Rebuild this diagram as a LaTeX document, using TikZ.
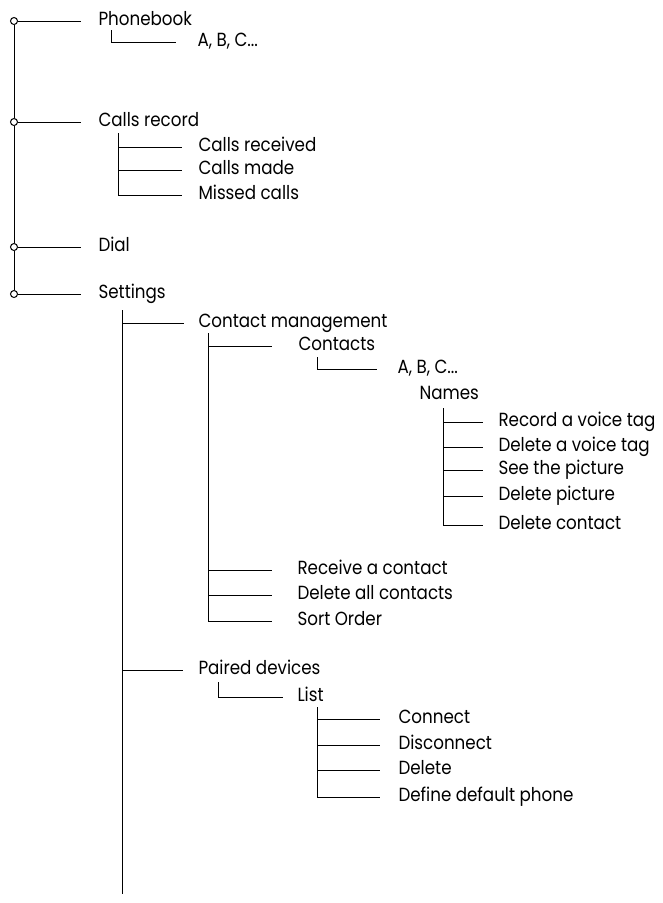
\documentclass[tikz,border=0pt]{standalone}
\usepackage{fontspec}
\setmainfont[FakeStretch=0.88]{Poppins}
\begin{document}
\begin{tikzpicture}[x=1pt,y=-1pt,line width=1pt,
    lbl/.style={anchor=west,inner sep=0pt,text height=13pt,text depth=5pt,font=\fontsize{19}{21}\selectfont},
    dot/.style={circle,draw,fill=white,minimum size=7pt,inner sep=0pt}]
    \useasboundingbox (0,0) rectangle (662,903);
    % top level
    \node[dot](o1) at (14,21){};
    \node[dot](o2) at (14,122){};
    \node[dot](o3) at (14,247){};
    \node[dot](o4) at (14,294){};
    \node[lbl](pb) at (98,21){Phonebook};
    \node[lbl](cr) at (98,122){Calls record};
    \node[lbl](dial) at (98,247){Dial};
    \node[lbl](set) at (98,294){Settings};
    \draw (o1)--(o2) (o2)--(o3) (o3)--(o4);
    \draw (o1)--([xshift=-17pt]pb.west) (o2)--([xshift=-17pt]cr.west) (o3)--([xshift=-17pt]dial.west) (o4)--([xshift=-17pt]set.west);
    % phonebook
    \node[lbl](pbA) at (197,42){A, B, C...};
    \coordinate (pbs) at (111,30);
    \draw (pbs)|-([xshift=-21pt]pbA.west);
    % calls record
    \node[lbl](cr1) at (198,147){Calls received};
    \node[lbl](cr2) at (198,170){Calls made};
    \node[lbl](cr3) at (198,195){Missed calls};
    \coordinate (crs) at (118,133);
    \foreach \n in {cr1,cr2,cr3} \draw (crs)|-([xshift=-16pt]\n.west);
    % settings
    \coordinate (sets) at (122,310);
    \coordinate (sete) at (122,894);
    \draw (sets)--(sete);
    \node[lbl](cm) at (198,323){Contact management};
    \node[lbl](pd) at (198,670){Paired devices};
    \draw (sets)|-([xshift=-14pt]cm.west) (sets)|-([xshift=-15pt]pd.west);
    % contact management
    \coordinate (cms) at (208.5,333);
    \node[lbl](ct) at (298,346){Contacts};
    \node[lbl](rc) at (297,570){Receive a contact};
    \node[lbl](dc) at (297,595){Delete all contacts};
    \node[lbl](so) at (297,621){Sort Order};
    \draw (cms)|-([xshift=-26pt]ct.west);
    \foreach \n in {rc,dc,so} \draw (cms)|-([xshift=-25pt]\n.west);
    % contacts
    \node[lbl](ctA) at (397,369){A, B, C...};
    \node[lbl](nm) at (419,395){Names};
    \coordinate (cts) at (317,357);
    \draw (cts)|-([xshift=-20pt]ctA.west);
    \coordinate (nms) at (443,408);
    \node[lbl](nm1) at (498,422){Record a voice tag};
    \node[lbl](nm2) at (498,447){Delete a voice tag};
    \node[lbl](nm3) at (498,470){See the picture};
    \node[lbl](nm4) at (498,496){Delete picture};
    \node[lbl](nm5) at (498,525){Delete contact};
    \foreach \n in {nm1,nm2,nm3,nm4,nm5} \draw (nms)|-([xshift=-15pt]\n.west);
    % paired devices
    \node[lbl](ls) at (297,697){List};
    \coordinate (pds) at (218,682);
    \draw (pds)|-([xshift=-14pt]ls.west);
    \coordinate (lss) at (317,707);
    \node[lbl](l1) at (398,719){Connect};
    \node[lbl](l2) at (398,745){Disconnect};
    \node[lbl](l3) at (398,770){Delete};
    \node[lbl](l4) at (398,797){Define default phone};
    \foreach \n in {l1,l2,l3,l4} \draw (lss)|-([xshift=-18pt]\n.west);
\end{tikzpicture}
\end{document}
